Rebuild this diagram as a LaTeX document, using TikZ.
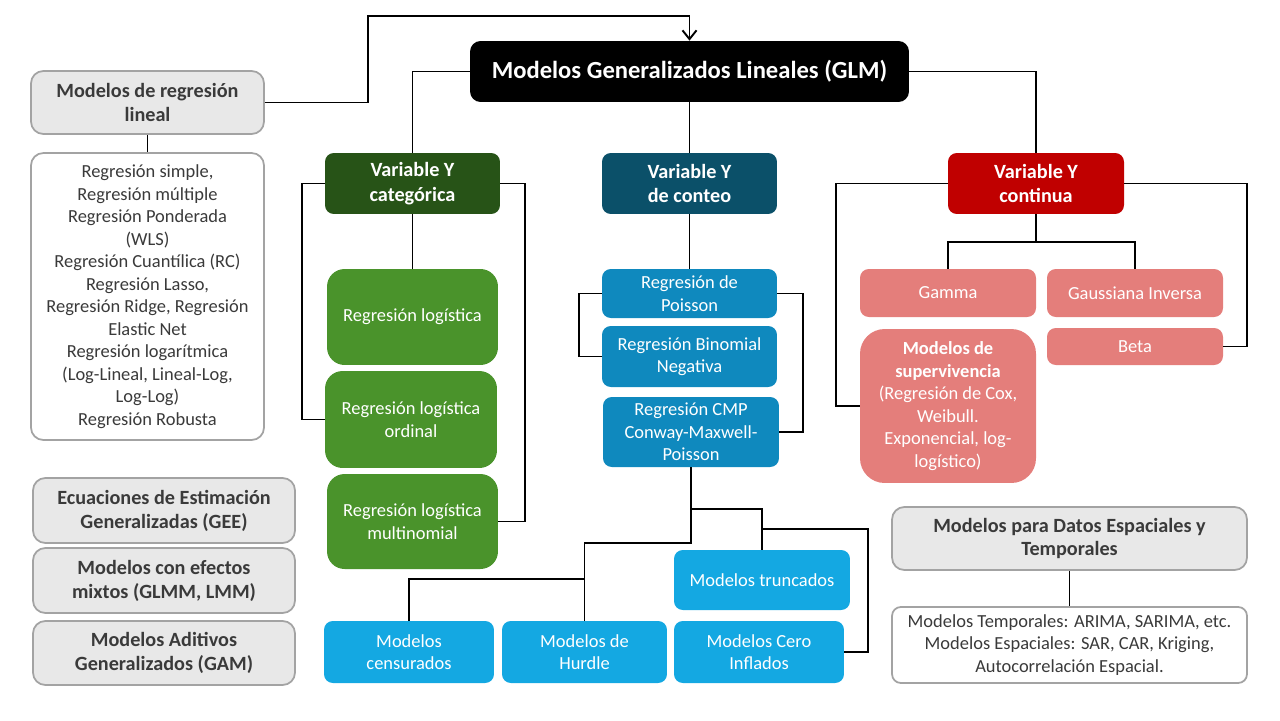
\documentclass[tikz,border=0pt]{standalone}
\usepackage{fontspec}
\setmainfont{Carlito}
\usetikzlibrary{arrows.meta,positioning}

\definecolor{catdark}{RGB}{39,83,23}
\definecolor{catgreen}{RGB}{74,147,43}
\definecolor{cntdark}{RGB}{11,80,105}
\definecolor{cntblue}{RGB}{15,137,190}
\definecolor{cntlight}{RGB}{20,168,226}
\definecolor{conred}{RGB}{192,0,0}
\definecolor{conpink}{RGB}{228,126,123}
\definecolor{greyfill}{RGB}{232,232,232}
\definecolor{greyline}{RGB}{163,163,163}
\definecolor{greytext}{RGB}{58,58,58}

\tikzset{
  box/.style={rectangle, rounded corners=5pt, inner sep=2pt, align=center, text=white,
    font=\fontsize{10.5}{12.8}\selectfont},
  glmbox/.style={box, fill=black, rounded corners=6pt, font=\bfseries\fontsize{14}{16.5}\selectfont},
  headbox/.style={box, font=\bfseries\fontsize{11.5}{13.8}\selectfont},
  greybox/.style={box, fill=greyfill, draw=greyline, line width=1pt, rounded corners=7pt,
    text=greytext, font=\bfseries\fontsize{11.5}{13.6}\selectfont},
  listbox/.style={box, fill=white, draw=greyline, line width=1pt, rounded corners=7pt, text=greytext},
  greenbox/.style={box, fill=catgreen, rounded corners=10pt},
  bluebox/.style={box, fill=cntblue},
  lightbox/.style={box, fill=cntlight},
  pinkbox/.style={box, fill=conpink},
  link/.style={draw=black, line width=1.1pt},
}

\begin{document}
\begin{tikzpicture}[x=0.02cm, y=-0.02cm]
  \useasboundingbox (0,0) rectangle (1280,720);

  % Main node
  \node[glmbox, minimum width=8.78cm, minimum height=1.22cm] (glm) at (689.5,71.5) {Modelos Generalizados Lineales (GLM)};

  % Linear regression (left)
  \node[greybox, minimum width=4.66cm, minimum height=1.26cm] (lin) at (147.5,102.5) {Modelos de regresión\\lineal};
  \node[listbox, minimum width=4.66cm, minimum height=5.74cm] (linlist) at (147.5,296.5)
    {Regresión simple,\\Regresión múltiple\\Regresión Ponderada\\(WLS)\\Regresión Cuantílica (RC)\\Regresión Lasso,\\Regresión Ridge, Regresión\\Elastic Net\\Regresión logarítmica\\(Log-Lineal, Lineal-Log,\\Log-Log)\\Regresión Robusta};

  % Other families (left bottom)
  \node[greybox, minimum width=5.24cm, minimum height=1.3cm] (gee) at (164,510.5) {Ecuaciones de Estimación\\Generalizadas (GEE)};
  \node[greybox, minimum width=5.24cm, minimum height=1.3cm] (mix) at (164,580.5) {Modelos con efectos\\mixtos (GLMM, LMM)};
  \node[greybox, minimum width=5.24cm, minimum height=1.28cm] (gam) at (164,653) {Modelos Aditivos\\Generalizados (GAM)};

  % Headers
  \node[headbox, fill=catdark, minimum width=3.5cm, minimum height=1.22cm] (cat) at (412.5,183.5) {Variable Y\\categórica};
  \node[headbox, fill=cntdark, minimum width=3.5cm, minimum height=1.22cm] (cnt) at (689.5,183.5) {Variable Y\\de conteo};
  \node[headbox, fill=conred, minimum width=3.52cm, minimum height=1.22cm] (con) at (1036,183.5) {Variable Y\\continua};

  % Categorical branch
  \node[greenbox, minimum width=3.42cm, minimum height=1.92cm] (logit) at (412.5,317) {Regresión logística};
  \node[greenbox, minimum width=3.44cm, minimum height=1.94cm] (ordinal) at (411,419.5) {Regresión logística\\ordinal};
  \node[greenbox, minimum width=3.42cm, minimum height=1.9cm] (multi) at (412.5,521.5) {Regresión logística\\multinomial};

  % Count branch
  \node[bluebox, minimum width=3.5cm, minimum height=0.98cm] (poisson) at (689.5,293.5) {Regresión de\\Poisson};
  \node[bluebox, minimum width=3.5cm, minimum height=1.22cm] (binom) at (689.5,356.5) {Regresión Binomial\\Negativa};
  \node[bluebox, minimum width=3.52cm, minimum height=1.4cm] (cmp) at (691,432) {Regresión CMP\\Conway-Maxwell-\\Poisson};
  \node[lightbox, minimum width=3.52cm, minimum height=1.2cm] (trunc) at (762,580) {Modelos truncados};
  \node[lightbox, minimum width=3.4cm, minimum height=1.24cm] (cens) at (409,652) {Modelos\\censurados};
  \node[lightbox, minimum width=3.3cm, minimum height=1.24cm] (hurdle) at (584.5,652) {Modelos de\\Hurdle};
  \node[lightbox, minimum width=3.4cm, minimum height=1.24cm] (cero) at (759,652) {Modelos Cero\\Inflados};

  % Continuous branch
  \node[pinkbox, minimum width=3.52cm, minimum height=0.96cm] (gamma) at (948,293) {Gamma};
  \node[pinkbox, minimum width=3.52cm, minimum height=0.96cm] (gauss) at (1135,293) {Gaussiana Inversa};
  \node[pinkbox, minimum width=3.52cm, minimum height=0.74cm] (beta) at (1135,346.5) {Beta};
  \node[pinkbox, rounded corners=14pt, minimum width=3.52cm, minimum height=3.08cm] (surv) at (948,406)
    {\textbf{Modelos de}\\\textbf{supervivencia}\\(Regresión de Cox,\\Weibull.\\Exponencial, log-\\logístico)};

  % Spatial and temporal
  \node[greybox, minimum width=7.1cm, minimum height=1.26cm] (spt) at (1069.5,538.5) {Modelos para Datos Espaciales y\\Temporales};
  \node[listbox, rounded corners=5pt, minimum width=7.1cm, minimum height=1.52cm] (sptlist) at (1069.5,645)
    {Modelos Temporales: ARIMA, SARIMA, etc.\\Modelos Espaciales: SAR, CAR, Kriging,\\Autocorrelación Espacial.};

  % Connectors
  \coordinate (toproute) at (368,16);
  \draw[link, -{Straight Barb[length=5pt,width=8pt]}] (lin.east) -| (toproute) -| (glm.north);
  \draw[link] (lin.south) -- (linlist.north);
  \draw[link] (glm.west) -| (cat.north);
  \draw[link] (glm.south) -- (cnt.north);
  \draw[link] (glm.east) -| (con.north);

  \draw[link] (cat.south) -- (logit.north);
  \draw[link] (cat.west) -- ++(-23,0) |- (ordinal.west);
  \draw[link] (cat.east) -- ++(25,0) |- (multi.east);

  \draw[link] (cnt.south) -- (poisson.north);
  \draw[link] (poisson.west) -- ++(-23,0) |- (binom.west);
  \draw[link] (poisson.east) -- ++(26,0) |- (cmp.east);
  \draw[link] (cmp.south) -- ++(0,42) -| (trunc.north);
  \coordinate (truncfork) at (762,529);
  \draw[link] (truncfork) -- ++(106,0) |- (cero.east);
  \draw[link] (cmp.south) -- ++(0,76) -| (hurdle.north);
  \coordinate (hurdlefork) at (584.5,579);
  \draw[link] (hurdlefork) -| (cens.north);

  \draw[link] (con.south) -- ++(0,28) coordinate (confork);
  \draw[link] (gamma.north) |- (confork) -| (gauss.north);
  \draw[link] (con.west) -- ++(-112,0) |- (surv.west);
  \draw[link] (con.east) -- ++(123,0) |- (beta.east);

  \draw[link] (spt.south) -- (sptlist.north);
\end{tikzpicture}
\end{document}
